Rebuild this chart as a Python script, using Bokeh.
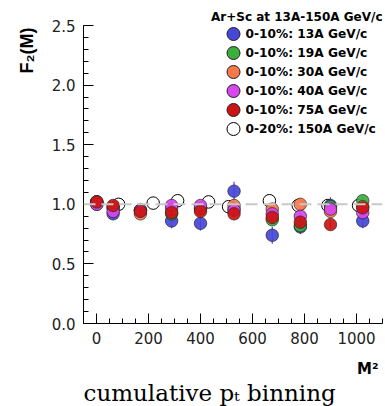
from bokeh.plotting import figure
from bokeh.models import (Range1d, FixedTicker, PrintfTickFormatter, Span, Title)
from bokeh.core.properties import value
from bokeh.embed import file_html
from bokeh.resources import INLINE

# ---------------- data ----------------
m2 = [1, 64, 169, 289, 400, 529, 676, 784, 900, 1024]
m2_150 = [1, 85, 218, 312, 431, 508, 665, 776, 890, 1008]

f2_13 = [1.01, 0.92, 0.95, 0.86, 0.84, 1.11, 0.74, 0.81, 0.99, 0.86]
err_13 = [0.03, 0.04, 0.04, 0.06, 0.06, 0.08, 0.07, 0.06, 0.07, 0.06]
f2_19 = [1.00, 0.97, 0.95, 0.92, 0.96, 0.96, 0.87, 0.82, 0.98, 1.03]
f2_30 = [1.02, 0.97, 0.92, 0.96, 0.97, 0.99, 0.96, 1.00, 0.94, 0.98]
f2_40 = [1.00, 0.94, 0.95, 0.99, 0.99, 0.95, 0.92, 0.90, 0.96, 0.93]
f2_75 = [1.02, 0.99, 0.94, 0.93, 0.94, 0.92, 0.89, 0.85, 0.83, 0.97]
err_small = [0.02, 0.03, 0.03, 0.03, 0.03, 0.03, 0.04, 0.04, 0.04, 0.04]
f2_150 = [1.02, 1.00, 1.01, 1.03, 1.02, 0.98, 1.03, 0.99, 0.99, 0.99]

labels = ["0-10%: 13A GeV/c", "0-10%: 19A GeV/c", "0-10%: 30A GeV/c",
          "0-10%: 40A GeV/c", "0-10%: 75A GeV/c", "0-20%: 150A GeV/c"]
colors = ["#4646d8", "#3cae3c", "#f9784a", "#d846ee", "#cc1414"]

y_ticks = [0.0, 0.5, 1.0, 1.5, 2.0, 2.5]
x_ticks = [0, 200, 400, 600, 800, 1000]

# ---------------- figure ----------------
FRAME_W, FRAME_H = 299, 298
p = figure(width=385, height=406, output_backend="svg", toolbar_location=None,
           x_range=Range1d(-50, 1100), y_range=Range1d(0, 2.5),
           min_border_left=83, min_border_right=3, min_border_top=25,
           min_border_bottom=83)
p.extra_x_ranges = {"px": Range1d(0, FRAME_W)}
p.extra_y_ranges = {"px": Range1d(0, FRAME_H)}
p.outline_line_color = None
p.grid.grid_line_color = None
p.background_fill_color = "white"
p.border_fill_color = "white"

for ax in (p.xaxis[0], p.yaxis[0]):
    ax.axis_line_color = "black"
    ax.axis_line_width = 1
    ax.major_tick_line_color = "black"
    ax.minor_tick_line_color = "black"
    ax.major_tick_in = 10
    ax.major_tick_out = 0
    ax.minor_tick_in = 5
    ax.minor_tick_out = 0
    ax.major_label_text_font = "DejaVu Sans"
    ax.major_label_text_font_size = "15px"
    ax.major_label_text_color = "#222222"

p.yaxis.ticker = FixedTicker(ticks=y_ticks,
                             minor_ticks=[i / 10 for i in range(0, 26)])
p.yaxis.formatter = PrintfTickFormatter(format="%.1f")
p.yaxis.major_label_standoff = 8
p.xaxis.ticker = FixedTicker(ticks=x_ticks,
                             minor_ticks=list(range(-50, 1101, 50)))
p.xaxis.major_label_standoff = 8

p.add_layout(Span(location=1.0, dimension="width", line_color="#c8c8c8",
                  line_width=2, line_dash="12 6"))

# open circles (150A)
p.scatter(m2_150, f2_150, size=12.5, fill_color="white", fill_alpha=0.0,
          line_color="black", line_width=1)

series = [f2_13, f2_19, f2_30, f2_40, f2_75]
errs = [err_13, err_small, err_small, err_small, err_small]
for ys, es, c in zip(series, errs, colors):
    p.segment(x0=m2, y0=[y - e for y, e in zip(ys, es)],
              x1=m2, y1=[y + e for y, e in zip(ys, es)],
              line_color=c, line_width=1.2)
    p.scatter(m2, ys, size=12.5, fill_color=c, fill_alpha=0.92,
              line_color="#202020", line_width=0.8, line_alpha=0.8)

# ---------------- legend (frame-pixel coordinates) ----------------
leg_x, leg_top, leg_step = 150, 289.5, 19
leg_y = [leg_top - i * leg_step for i in range(len(labels))]
leg_fill = colors + ["white"]
p.scatter([leg_x] * len(labels), leg_y, size=13, fill_color=leg_fill,
          line_color=["#202020"] * 5 + ["black"], line_width=1,
          x_range_name="px", y_range_name="px")
p.text([leg_x + 12] * len(labels), leg_y, text=labels,
       x_range_name="px", y_range_name="px",
       text_font=value("DejaVu Sans"), text_font_style="bold",
       text_font_size="12.2px", text_baseline="middle", text_align="left",
       text_color="black")

# ---------------- texts outside the frame ----------------
p.title.text = "Ar+Sc at 13A-150A GeV/c"
p.title.align = "right"
p.title.offset = 0
p.title.standoff = 4
p.title.text_font = "DejaVu Sans"
p.title.text_font_style = "bold"
p.title.text_font_size = "12px"
p.title.text_color = "black"

p.add_layout(Title(text="F₂(M)", align="right", offset=2, standoff=24,
                   text_font="Liberation Sans", text_font_style="bold",
                   text_font_size="18px", text_color="black"), "left")
# spacer between tick labels and the M² label
p.add_layout(Title(text=" ", standoff=0, text_font_size="8px"), "below")
p.add_layout(Title(text="M²", align="right", offset=4, standoff=0,
                   text_font="DejaVu Sans", text_font_style="bold",
                   text_font_size="15px", text_color="black"), "below")
p.add_layout(Title(text="cumulative pₜ binning", align="left", offset=0,
                   standoff=0, text_font="DejaVu Serif",
                   text_font_style="normal", text_font_size="23px",
                   text_color="black"), "below")

open("out.html", "w").write(file_html(p, INLINE))
